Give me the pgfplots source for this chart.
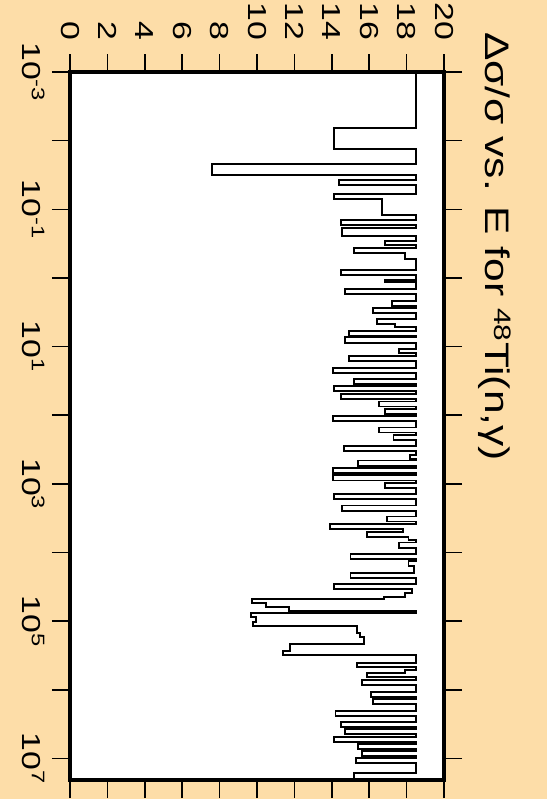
\documentclass[border=0pt]{standalone}
\usepackage{pgfplots}
\pgfplotsset{compat=1.18}
\usepackage{pgfplotstable}
\usepackage{fontspec}
\setmainfont{Liberation Sans}
\definecolor{paper}{RGB}{253,221,168}

% Relative uncertainty (percent) of the 48Ti(n,gamma) cross section.
% logE = log10(E/eV) at the upper end of each energy group,
% dsig = value that holds over that group.
\pgfplotstableread{
logE dsig
-3.000 18.5
-2.187 18.5
-1.880 14.1
-1.666 18.5
-1.496 7.58
-1.433 18.5
-1.350 14.4
-1.224 18.5
-1.156 14.1
-0.923 16.67
-0.840 18.5
-0.777 14.47
-0.729 18.5
-0.617 14.55
-0.534 18.5
-0.485 16.86
-0.437 18.5
-0.364 15.2
-0.277 17.9
-0.111 18.5
-0.048 14.47
0.025 18.5
0.064 16.86
0.160 18.5
0.233 14.7
0.331 18.5
0.404 17.2
0.437 18.5
0.510 16.2
0.598 18.5
0.666 16.4
0.720 17.4
0.768 18.5
0.841 14.9
0.866 18.5
0.948 14.7
1.031 18.5
1.093 17.6
1.143 18.5
1.216 14.94
1.312 18.5
1.385 14.05
1.472 18.5
1.545 15.17
1.580 18.5
1.653 14.1
1.687 18.5
1.764 14.5
1.799 18.5
1.872 16.5
1.905 18.5
1.978 16.86
2.017 18.5
2.090 14.05
2.178 18.5
2.251 16.5
2.284 18.5
2.357 17.3
2.445 18.5
2.517 14.65
2.576 18.5
2.638 18.2
2.659 18.5
2.736 15.4
2.770 18.5
2.843 14.05
2.867 18.5
2.950 14.05
2.988 18.5
3.061 16.86
3.149 18.5
3.222 14.1
3.315 18.5
3.392 14.56
3.475 18.5
3.548 16.97
3.582 18.5
3.659 13.9
3.694 17.8
3.767 15.9
3.815 18.1
3.854 18.5
3.927 17.6
4.019 18.5
4.096 15.0
4.121 18.5
4.194 18.1
4.300 18.4
4.373 15.0
4.456 18.5
4.529 14.1
4.592 18.3
4.641 17.9
4.679 16.8
4.729 9.75
4.796 10.5
4.850 11.7
4.883 18.5
4.942 9.68
5.010 9.93
5.064 9.8
5.175 15.37
5.224 15.5
5.331 15.7
5.429 11.76
5.491 11.4
5.603 18.5
5.662 15.37
5.710 18.5
5.758 17.9
5.816 15.9
5.856 18.5
5.929 15.6
6.026 18.5
6.099 16.1
6.137 18.5
6.206 16.2
6.303 18.5
6.376 14.2
6.464 18.5
6.536 14.47
6.570 18.5
6.643 14.7
6.682 18.5
6.755 14.1
6.789 18.5
6.862 15.4
6.891 18.5
6.963 15.6
6.997 18.5
7.070 15.27
7.207 18.5
7.313 15.2
}\steps

\begin{document}
\begin{tikzpicture}
\path[use as bounding box] (0,0) rectangle (547pt,-799pt);
\fill[paper] (0,0) rectangle (547pt,-799pt);
\begin{axis}[
  at={(70pt,-72pt)}, anchor=north west,
  scale only axis, width=374pt, height=708pt,
  xmin=0, xmax=20, ymin=-3, ymax=7.313,
  y dir=reverse,
  axis background/.style={fill=white},
  axis line style={line width=3.5pt, line cap=rect},
  tick align=outside, major tick length=18pt,
  tick style={line width=1.6pt, black},
  minor tick num=0,
  xtick={0,2,...,20}, xtick pos=both, xticklabel pos=upper,
  xticklabels={0,2,4,6,8,10,12,14,16,18,20},
  xticklabel shift=9pt,
  xticklabel style={rotate=-90, anchor=east, xscale=1.3,
    font=\fontsize{26}{26}\selectfont},
  ytick={-3,-2,...,7}, ytick pos=both, yticklabel pos=left,
  yticklabels={10\textsuperscript{-3},,10\textsuperscript{-1},,10\textsuperscript{1},,10\textsuperscript{3},,10\textsuperscript{5},,10\textsuperscript{7}},
  yticklabel shift=4pt,
  yticklabel style={rotate=-90, anchor=north, xscale=1.3,
    font=\fontsize{26}{26}\selectfont},
]
\addplot[const plot mark left, black, line width=1.9pt, mark=none]
  table[x=dsig, y=logE] {\steps};
\end{axis}
\node[rotate=-90, anchor=base west, xscale=1.25, inner sep=0pt,
  font=\fontsize{34}{34}\selectfont] at (485pt,-32pt)
  {Δσ/σ vs. E for \textsuperscript{48}Ti(n,γ)};
\end{tikzpicture}
\end{document}
